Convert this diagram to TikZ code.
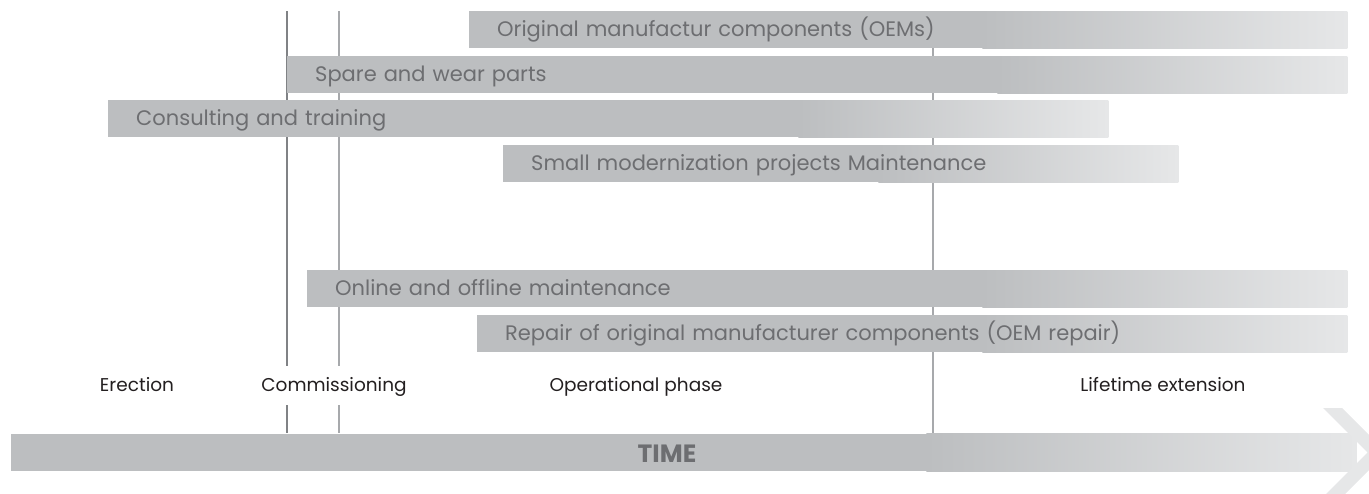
\documentclass[tikz,border=0pt]{standalone}
\usepackage{fontspec}
\setmainfont{Poppins}
\definecolor{barg}{HTML}{BCBEC0}
\definecolor{barlight}{HTML}{E6E7E8}
\definecolor{bartext}{HTML}{6D6E71}
\definecolor{labtext}{HTML}{231F20}
\definecolor{lineA}{HTML}{808285}
\definecolor{lineB}{HTML}{A7A9AC}
\pgfdeclarelayer{lines}
\pgfdeclarelayer{bars}
\pgfsetlayers{lines,bars,main}
\begin{document}
\begin{tikzpicture}[x=1pt,y=1pt,
  bar/.style={anchor=north west, draw=none,
    minimum height=37pt, inner ysep=0pt, inner xsep=28pt,
    text width=#1pt, align=left, text=bartext,
    font=\fontsize{21}{21}\selectfont, text height=14.5pt, text depth=0pt},
  barfill/.style={fill=barg},
  barfade/.style={left color=barg, right color=barlight},
  phase/.style={text=labtext, font=\fontsize{18.5}{18.5}\selectfont,
    text height=13pt, text depth=0pt, inner sep=0pt},
  gap/.style={fill=white, minimum height=39pt, inner xsep=2pt},
  vline/.style={line width=1.2pt}]
\useasboundingbox (0,-493) rectangle (1369,0);
\clip (0,-493) rectangle (1369,0);

% service bars (text)
\node[bar={822}] (oem) at (469,-11) {Original manufactur components (OEMs)};
\node[bar={1004}] (spare) at (287,-56) {Spare and wear parts};
\node[bar={944}] (consult) at (108,-100) {Consulting and training};
\node[bar={619}] (small) at (503,-145) {Small modernization projects Maintenance};
\node[bar={984}] (online) at (307,-270) {Online and offline maintenance};
\node[bar={814}] (repair) at (477,-315) {Repair of original manufacturer components (OEM repair)};

% time bar
\node[anchor=west, minimum width=1345pt, minimum height=37pt, inner sep=0pt] (tbar) at (11,-452.5) {};

% bar backgrounds
\begin{pgfonlayer}{bars}
  \foreach \b/\f in {oem/365, spare/350, consult/310, small/300, online/365, repair/365, tbar/430} {
    \fill[barfill] (\b.north west) rectangle ([xshift=-\f pt+0.5pt]\b.south east);
    \shade[barfade] ([xshift=-\f pt]\b.north east) rectangle (\b.south east);
  }
\end{pgfonlayer}

% vertical milestone lines
\coordinate (l1t) at (287,-11);  \coordinate (l1b) at (287,-433);
\coordinate (l2t) at (339,-11);  \coordinate (l2b) at (339,-433);
\coordinate (l3t) at (933,-11);  \coordinate (l3b) at (933,-433);
\begin{pgfonlayer}{lines}
  \draw[vline, lineA] (l1t) -- (l1b);
  \draw[vline, lineB] (l2t) -- (l2b);
  \draw[vline, lineB] (l3t) -- (l3b);
\end{pgfonlayer}

% phase labels
\node[phase] (erect) at (137,-385) {Erection};
\node[phase, gap] (comm) at (334,-385) {Commissioning};
\node[phase] (oper) at (636,-385) {Operational phase};
\node[phase] (life) at (1163,-385) {Lifetime extension};

% time arrow head
\begin{pgfonlayer}{bars}
\fill[barlight] (1323,-408) -- (1342,-408) -- (1386.5,-452.5) -- (1342,-497)
  -- (1323,-497) -- (1367.5,-452.5) -- cycle;
\end{pgfonlayer}
\node[text=bartext, font=\fontsize{25}{25}\bfseries\selectfont, inner sep=0pt,
  text height=17pt, text depth=0pt] (time) at (667,-454) {TIME};
\end{tikzpicture}
\end{document}
